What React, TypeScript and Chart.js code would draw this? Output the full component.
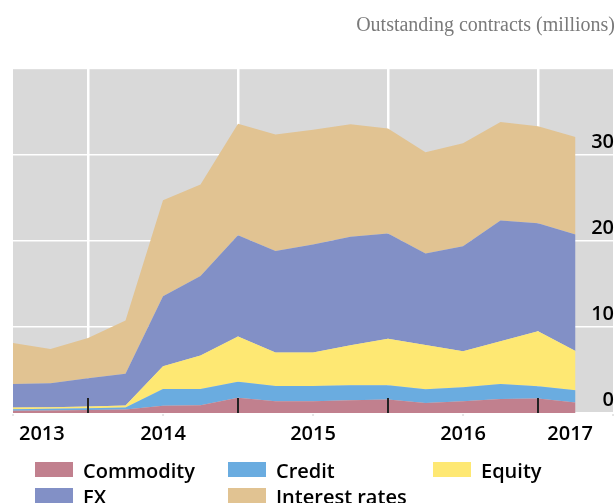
import React, { useEffect, useRef } from "react";
import { Chart, registerables } from "chart.js";

Chart.register(...registerables);

const quarters = [
  "2013Q1", "2013Q2", "2013Q3", "2013Q4",
  "2014Q1", "2014Q2", "2014Q3", "2014Q4",
  "2015Q1", "2015Q2", "2015Q3", "2015Q4",
  "2016Q1", "2016Q2", "2016Q3", "2016Q4",
  "2017Q1",
];
const yearLabels = ["2013", "2014", "2015", "2016", "2017"];
const yTickValues = [0, 10, 20, 30];

const commodity = [0.27, 0.29, 0.36, 0.4, 0.83, 0.91, 1.76, 1.37, 1.37, 1.49, 1.57, 1.17, 1.37, 1.64, 1.69, 1.22];
const credit = [0.17, 0.19, 0.2, 0.24, 1.97, 1.89, 1.86, 1.78, 1.77, 1.74, 1.66, 1.6, 1.63, 1.74, 1.43, 1.43];
const equity = [0.2, 0.19, 0.19, 0.23, 2.64, 3.89, 5.28, 3.88, 3.89, 4.65, 5.39, 5.15, 4.19, 4.97, 6.39, 4.57];
const fx = [2.74, 2.8, 3.3, 3.68, 8.14, 9.25, 11.77, 11.82, 12.57, 12.6, 12.25, 10.63, 12.21, 14.03, 12.56, 13.54];
const interestRates = [4.77, 3.98, 4.68, 6.21, 11.16, 10.63, 12.95, 13.53, 13.35, 13.1, 12.21, 11.78, 11.97, 11.47, 11.28, 11.34];

const seriesNames = ["Commodity", "Credit", "Equity", "FX", "Interest rates"];
const seriesColors = ["#c1808e", "#6aace0", "#fee873", "#8290c6", "#e1c392"];
const seriesData = [commodity, credit, equity, fx, interestRates];

const titleText = "Outstanding contracts (millions)";
const FONT = '"Open Sans", "Noto Sans", sans-serif';

const bgPlugin = {
  id: "plotBg",
  beforeDraw(chart: any) {
    const { ctx, chartArea } = chart;
    ctx.save();
    ctx.fillStyle = "#d9d9d9";
    ctx.fillRect(chartArea.left, chartArea.top, chartArea.right - chartArea.left, chartArea.bottom - chartArea.top);
    ctx.restore();
  },
};

const decorPlugin = {
  id: "decor",
  afterDatasetsDraw(chart: any) {
    const { ctx, chartArea, scales } = chart;
    const xs = scales.x;
    ctx.save();
    for (let i = 0; i < quarters.length; i++) {
      const x = xs.getPixelForValue(i);
      if (i % 4 === 2) {
        ctx.strokeStyle = "#222";
        ctx.lineWidth = 2;
        ctx.beginPath();
        ctx.moveTo(x, chartArea.bottom - 15);
        ctx.lineTo(x, chartArea.bottom);
        ctx.stroke();
      } else if (i % 4 === 0) {
        ctx.strokeStyle = "#cccccc";
        ctx.lineWidth = 1;
        ctx.beginPath();
        ctx.moveTo(x, chartArea.bottom + 1);
        ctx.lineTo(x, chartArea.bottom + 3);
        ctx.stroke();
      }
    }
    ctx.restore();
  },
  afterDraw(chart: any) {
    const { ctx, chartArea, scales } = chart;
    const xs = scales.x;
    ctx.save();
    // year labels
    ctx.fillStyle = "#000";
    ctx.font = `600 20px ${FONT}`;
    ctx.textBaseline = "alphabetic";
    yearLabels.forEach((lab, k) => {
      const idx = k * 4;
      const x = xs.getPixelForValue(idx);
      if (k === 0) {
        ctx.textAlign = "left";
        ctx.fillText(lab, x + 6, chartArea.bottom + 27);
      } else if (k === yearLabels.length - 1) {
        ctx.textAlign = "right";
        ctx.fillText(lab, x - 20, chartArea.bottom + 27);
      } else {
        ctx.textAlign = "center";
        ctx.fillText(lab, x, chartArea.bottom + 27);
      }
    });
    // title
    ctx.fillStyle = "#7a7a7a";
    ctx.font = '20px "Liberation Serif", "Times New Roman", serif';
    ctx.textAlign = "right";
    ctx.fillText(titleText, chart.width - 1, 31);
    // legend
    const colX = [35, 228, 433];
    const rowY = [462, 488];
    ctx.font = `600 20px ${FONT}`;
    ctx.textAlign = "left";
    seriesNames.forEach((name, i) => {
      const col = i % 3;
      const row = Math.floor(i / 3);
      const bx = colX[col];
      const by = rowY[row];
      ctx.fillStyle = seriesColors[i];
      ctx.fillRect(bx, by, 38, 15);
      ctx.fillStyle = "#000";
      ctx.fillText(name, bx + 48, by + 15.5);
    });
    ctx.restore();
  },
};

export default function App() {
  const canvasRef = useRef<HTMLCanvasElement | null>(null);

  useEffect(() => {
    document.body.style.margin = "0";
    const canvas = canvasRef.current;
    if (!canvas) return;
    const chart = new Chart(canvas, {
      type: "line",
      data: {
        labels: quarters,
        datasets: seriesNames.map((name, i) => ({
          label: name,
          data: seriesData[i],
          backgroundColor: seriesColors[i],
          borderColor: seriesColors[i],
          borderWidth: 0,
          pointRadius: 0,
          pointHoverRadius: 0,
          tension: 0,
          fill: i === 0 ? "origin" : "-1",
        })),
      },
      options: {
        responsive: false,
        animation: false,
        events: [],
        layout: { padding: { left: 13, top: 69, right: 1, bottom: 90 } },
        plugins: {
          legend: { display: false },
          tooltip: { enabled: false },
        },
        scales: {
          x: {
            type: "category",
            offset: false,
            border: { display: false },
            grid: {
              color: (c: any) => (c.index % 4 === 2 ? "#ffffff" : "rgba(0,0,0,0)"),
              lineWidth: 2.5,
              drawTicks: false,
            },
            ticks: { display: false, autoSkip: false },
          },
          y: {
            position: "right",
            stacked: true,
            min: 0,
            max: 40,
            border: { display: false },
            grid: {
              color: (c: any) => (c.tick && c.tick.value === 40 ? "rgba(255,255,255,0.4)" : "#ffffff"),
              lineWidth: 1.5,
              drawTicks: false,
            },
            afterBuildTicks: (scale: any) => {
              scale.ticks = [...yTickValues, 40].map((v) => ({ value: v }));
            },
            ticks: {
              mirror: true,
              padding: 1,
              labelOffset: -13,
              color: "#000",
              font: { family: FONT, size: 20, weight: "600" as any },
              callback: (v: any) => (v === 40 ? "" : String(v)),
            },
          },
        },
      },
      plugins: [bgPlugin, decorPlugin],
    });
    return () => chart.destroy();
  }, []);

  return (
    <div style={{ position: "relative", width: 616, height: 503, background: "#fff" }}>
      <canvas ref={canvasRef} width={616} height={503} style={{ display: "block" }} />
    </div>
  );
}
